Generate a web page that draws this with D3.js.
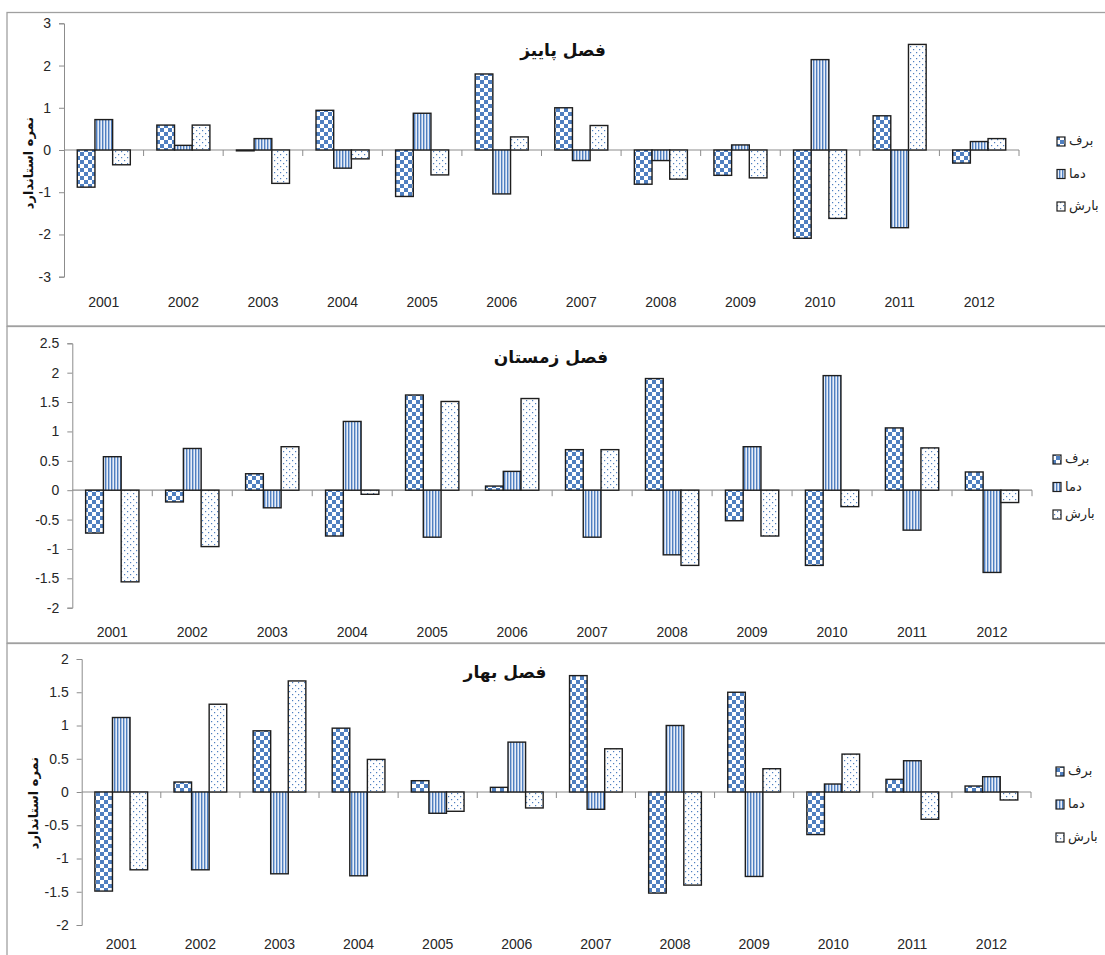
<!DOCTYPE html>
<html>
<head>
<meta charset="utf-8">
<script src="https://cdn.jsdelivr.net/npm/d3@7/dist/d3.min.js"></script>
<style>
  html, body { margin: 0; padding: 0; background: #fff; }
  svg { display: block; }
</style>
</head>
<body>
<svg id="chart" width="1105" height="955"></svg>
<script>
// ---------------- DATA ----------------
const years = ["2001","2002","2003","2004","2005","2006","2007","2008","2009","2010","2011","2012"];
const seriesNames = ["برف", "دما", "بارش"];

// فصل پاییز (autumn)
const autumnSnow   = [-0.88, 0.59, -0.02, 0.94, -1.10, 1.80, 1.00, -0.81, -0.60, -2.09, 0.81, -0.31];
const autumnTemp   = [0.72, 0.11, 0.27, -0.43, 0.87, -1.04, -0.25, -0.25, 0.12, 2.14, -1.84, 0.20];
const autumnPrecip = [-0.35, 0.59, -0.79, -0.21, -0.59, 0.31, 0.58, -0.69, -0.66, -1.62, 2.50, 0.27];
const autumnTicks  = [-3, -2, -1, 0, 1, 2, 3];

// فصل زمستان (winter)
const winterSnow   = [-0.73, -0.20, 0.28, -0.78, 1.62, 0.07, 0.69, 1.90, -0.52, -1.28, 1.06, 0.31];
const winterTemp   = [0.57, 0.71, -0.30, 1.17, -0.80, 0.32, -0.80, -1.10, 0.74, 1.95, -0.68, -1.40];
const winterPrecip = [-1.56, -0.96, 0.74, -0.07, 1.51, 1.56, 0.69, -1.28, -0.78, -0.28, 0.72, -0.21];
const winterTicks  = [-2, -1.5, -1, -0.5, 0, 0.5, 1, 1.5, 2, 2.5];

// فصل بهار (spring)
const springSnow   = [-1.49, 0.15, 0.92, 0.96, 0.17, 0.07, 1.75, -1.52, 1.50, -0.64, 0.19, 0.09];
const springTemp   = [1.12, -1.17, -1.23, -1.26, -0.32, 0.75, -0.26, 1.00, -1.27, 0.12, 0.47, 0.23];
const springPrecip = [-1.17, 1.32, 1.67, 0.49, -0.29, -0.24, 0.65, -1.40, 0.35, 0.57, -0.41, -0.12];
const springTicks  = [-2, -1.5, -1, -0.5, 0, 0.5, 1, 1.5, 2];

const yTitle = "نمره استاندارد";

// ---------------- STYLE / LAYOUT ----------------
const BLUE = "#4F7FC0";
const AXIS = "#8c8c8c";
const svg = d3.select("#chart");
const defs = svg.append("defs");

// checkerboard (برف)
const pCheck = defs.append("pattern").attr("id", "pat0").attr("patternUnits", "userSpaceOnUse")
  .attr("width", 8).attr("height", 8);
pCheck.append("rect").attr("width", 8).attr("height", 8).attr("fill", "#fff");
pCheck.append("rect").attr("x", 0).attr("y", 0).attr("width", 4).attr("height", 4).attr("fill", BLUE);
pCheck.append("rect").attr("x", 4).attr("y", 4).attr("width", 4).attr("height", 4).attr("fill", BLUE);

// vertical stripes (دما)
const pStripe = defs.append("pattern").attr("id", "pat1").attr("patternUnits", "userSpaceOnUse")
  .attr("width", 3).attr("height", 3);
pStripe.append("rect").attr("width", 3).attr("height", 3).attr("fill", "#e8eef8");
pStripe.append("rect").attr("x", 0).attr("width", 1.4).attr("height", 3).attr("fill", BLUE);

// sparse dots (بارش)
const pDot = defs.append("pattern").attr("id", "pat2").attr("patternUnits", "userSpaceOnUse")
  .attr("width", 6).attr("height", 6);
pDot.append("rect").attr("width", 6).attr("height", 6).attr("fill", "#fff");
pDot.append("rect").attr("x", 1).attr("y", 1).attr("width", 1.2).attr("height", 1.2).attr("fill", BLUE);
pDot.append("rect").attr("x", 4).attr("y", 4).attr("width", 1.2).attr("height", 1.2).attr("fill", BLUE);

const panels = [
  { title: "فصل پاییز", data: [autumnSnow, autumnTemp, autumnPrecip], ticks: autumnTicks,
    domain: [-3, 3], frame: [7, 12.5, 1110, 326], xL: 64, xR: 1019, yB: 276.7, yT: 23.3,
    labelY: 306, titleX: 563, titleY: 56, yTitleX: 28, yTitleY: 163,
    legX: 1057, legY: 137, legStep: 32.5 },
  { title: "فصل زمستان", data: [winterSnow, winterTemp, winterPrecip], ticks: winterTicks,
    domain: [-2, 2.5], frame: [7, 326.5, 1110, 643], xL: 72.3, xR: 1032, yB: 607.7, yT: 343.3,
    labelY: 636, titleX: 551, titleY: 363, yTitleX: null,
    legX: 1053, legY: 455, legStep: 27.5 },
  { title: "فصل بهار", data: [springSnow, springTemp, springPrecip], ticks: springTicks,
    domain: [-2, 2], frame: [7, 643.5, 1110, 980], xL: 81.7, xR: 1031, yB: 925, yT: 659,
    labelY: 948, titleX: 505, titleY: 678, yTitleX: 33, yTitleY: 803,
    legX: 1056, legY: 767, legStep: 33 }
];

panels.forEach(drawPanel);

function drawPanel(cfg) {
  const g = svg.append("g");
  const [fx0, fy0, fx1, fy1] = cfg.frame;
  g.append("rect").attr("x", fx0).attr("y", fy0).attr("width", fx1 - fx0).attr("height", fy1 - fy0)
    .attr("fill", "#fff").attr("stroke", "#a0a0a0").attr("stroke-width", 1.3);

  const x0 = d3.scaleBand().domain(years).range([cfg.xL, cfg.xR]).padding(0);
  const x1 = d3.scaleBand().domain(seriesNames).range([0, x0.bandwidth()])
    .paddingInner(0).paddingOuter(0.75);
  const y = d3.scaleLinear().domain(cfg.domain).range([cfg.yB, cfg.yT]);

  // y axis
  const yAxis = d3.axisLeft(y).tickValues(cfg.ticks).tickSize(5).tickPadding(8)
    .tickFormat(d => String(d));
  const ya = g.append("g").attr("transform", `translate(${cfg.xL},0)`).call(yAxis);
  ya.select(".domain").attr("stroke", AXIS).attr("stroke-width", 1);
  ya.selectAll(".tick line").attr("stroke", AXIS);
  ya.selectAll(".tick text").attr("fill", "#262626")
    .style("font-family", "'Liberation Sans', Arial, sans-serif").style("font-size", "14px");

  // zero (category) axis
  const y0 = y(0);
  g.append("line").attr("x1", cfg.xL).attr("x2", cfg.xR).attr("y1", y0).attr("y2", y0)
    .attr("stroke", AXIS).attr("stroke-width", 1.2);
  const boundaries = years.slice(1).map(d => x0(d)).concat([cfg.xR]);
  g.selectAll(".ctick").data(boundaries).enter().append("line")
    .attr("x1", d => d).attr("x2", d => d).attr("y1", y0).attr("y2", y0 + 6)
    .attr("stroke", AXIS).attr("stroke-width", 1);

  // year labels
  const xa = g.append("g").attr("transform", `translate(0,${cfg.labelY - 9})`)
    .call(d3.axisBottom(x0).tickSize(0).tickPadding(0));
  xa.select(".domain").remove();
  xa.selectAll(".tick text").attr("fill", "#262626")
    .style("font-family", "'Liberation Sans', Arial, sans-serif").style("font-size", "14px");

  // bars
  seriesNames.forEach((s, si) => {
    const vals = cfg.data[si];
    g.selectAll(".bar" + si).data(years).enter().append("rect")
      .attr("x", d => x0(d) + x1(s))
      .attr("width", x1.bandwidth())
      .attr("y", (d, i) => Math.min(y(vals[i]), y0))
      .attr("height", (d, i) => Math.abs(y(vals[i]) - y0))
      .attr("fill", `url(#pat${si})`)
      .attr("stroke", "#1e1e1e").attr("stroke-width", 1.4);
  });

  // title
  g.append("text").attr("x", cfg.titleX).attr("y", cfg.titleY).attr("text-anchor", "middle")
    .style("font-family", "'DejaVu Sans', sans-serif").style("font-weight", "bold")
    .style("font-size", "17px").attr("fill", "#111").text(cfg.title);

  // y title
  if (cfg.yTitleX !== null) {
    g.append("text").attr("transform", `translate(${cfg.yTitleX},${cfg.yTitleY}) rotate(-90)`)
      .attr("text-anchor", "middle").attr("dy", "0.35em")
      .style("font-family", "'DejaVu Sans', sans-serif").style("font-weight", "bold")
      .style("font-size", "13px").attr("fill", "#111").text(yTitle);
  }

  // legend
  seriesNames.forEach((s, si) => {
    const ly = cfg.legY + si * cfg.legStep;
    g.append("rect").attr("x", cfg.legX).attr("y", ly).attr("width", 8).attr("height", 9)
      .attr("fill", `url(#pat${si})`).attr("stroke", "#1e1e1e").attr("stroke-width", 1.2);
    g.append("text").attr("x", cfg.legX + 12).attr("y", ly + 8)
      .style("font-family", "'DejaVu Sans', sans-serif").style("font-size", "13px")
      .attr("fill", "#222").text(s);
  });
}
</script>
</body>
</html>
